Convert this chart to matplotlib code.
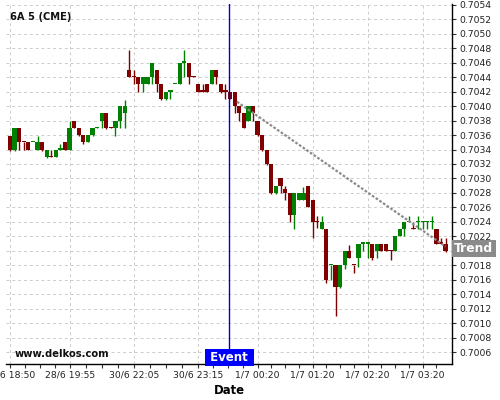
import matplotlib
matplotlib.use("Agg")
import matplotlib.pyplot as plt
import numpy as np

symbol = "6A 5 (CME)"
site = "www.delkos.com"

opens = [0.70358, 0.7034, 0.7037, 0.70351, 0.7035, 0.7035, 0.7034, 0.7035, 0.7033, 0.70331,
         0.7033, 0.7034, 0.7035, 0.7034, 0.7038, 0.7037, 0.7036, 0.7035, 0.7036, 0.7037,
         0.7038, 0.7039, 0.70371, 0.7037, 0.7038, 0.7039, 0.7045, 0.70441, 0.7044, 0.7043,
         0.7043, 0.7044, 0.7045, 0.7043, 0.7041, 0.7042, 0.7043, 0.7043, 0.7046, 0.7046,
         0.70441, 0.7043, 0.70421, 0.7043, 0.7043, 0.7045, 0.7043, 0.70421, 0.7042, 0.7042,
         0.7040, 0.7039, 0.7038, 0.7040, 0.7038, 0.7036, 0.7034, 0.7032, 0.7028, 0.7030,
         0.70285, 0.7028, 0.7025, 0.7027, 0.7027, 0.7029, 0.7027, 0.70241, 0.7023, 0.7023,
         0.7018, 0.7018, 0.7015, 0.7018, 0.7020, 0.70181, 0.7019, 0.7021, 0.7021, 0.7021,
         0.7020, 0.7021, 0.7021, 0.70201, 0.7020, 0.7022, 0.7023, 0.7024, 0.70231, 0.7024,
         0.7024, 0.7024, 0.7024, 0.7023, 0.70211, 0.7021]
highs = [0.70358, 0.7037, 0.7037, 0.70351, 0.7035, 0.70351, 0.70358, 0.7035, 0.7034, 0.7034,
         0.7034, 0.70348, 0.7035, 0.7038, 0.7038, 0.7037, 0.7036, 0.7036, 0.7037, 0.70371,
         0.7039, 0.7039, 0.70371, 0.7038, 0.7040, 0.70408, 0.70478, 0.7045, 0.7044, 0.7044,
         0.7044, 0.7046, 0.7045, 0.7043, 0.7042, 0.70421, 0.70431, 0.7046, 0.70478, 0.7046,
         0.70441, 0.7043, 0.7043, 0.7043, 0.7045, 0.7045, 0.7043, 0.7043, 0.7042, 0.7042,
         0.7040, 0.7039, 0.7040, 0.7040, 0.7038, 0.7036, 0.7034, 0.7032, 0.7029, 0.7030,
         0.7029, 0.7028, 0.7028, 0.7028, 0.70288, 0.7029, 0.7027, 0.70248, 0.70248, 0.7023,
         0.70181, 0.7018, 0.7018, 0.7020, 0.70208, 0.70181, 0.7021, 0.70211, 0.70211, 0.7021,
         0.7021, 0.7021, 0.7021, 0.70201, 0.7022, 0.7023, 0.7024, 0.70248, 0.7024, 0.70248,
         0.70241, 0.70241, 0.70248, 0.7023, 0.70218, 0.70218]
lows = [0.70338, 0.70338, 0.7034, 0.7034, 0.7034, 0.7035, 0.7034, 0.70338, 0.70328, 0.7033,
        0.7033, 0.7034, 0.7034, 0.7034, 0.7037, 0.70358, 0.70348, 0.7035, 0.70358, 0.7037,
        0.7037, 0.70368, 0.7037, 0.70358, 0.7037, 0.7037, 0.7044, 0.7043, 0.7042, 0.7042,
        0.7043, 0.7043, 0.7042, 0.70408, 0.70408, 0.7041, 0.7043, 0.7043, 0.7044, 0.7043,
        0.7044, 0.7042, 0.7042, 0.7042, 0.7043, 0.7043, 0.70418, 0.7041, 0.7041, 0.7039,
        0.7038, 0.7037, 0.7038, 0.7038, 0.70358, 0.70338, 0.70318, 0.70278, 0.70278, 0.7028,
        0.7027, 0.7024, 0.7023, 0.7027, 0.7027, 0.7026, 0.70218, 0.70232, 0.7023, 0.70155,
        0.7016, 0.7011, 0.70148, 0.70175, 0.7019, 0.7017, 0.70178, 0.7020, 0.7019, 0.70188,
        0.7019, 0.7020, 0.7020, 0.70188, 0.7020, 0.7022, 0.7022, 0.7024, 0.7023, 0.7023,
        0.7023, 0.7023, 0.7023, 0.7021, 0.7021, 0.70198]
closes = [0.7034, 0.7037, 0.7035, 0.7035, 0.7034, 0.70351, 0.7035, 0.7034, 0.7034, 0.7033,
          0.7034, 0.70341, 0.7034, 0.7037, 0.7037, 0.7036, 0.7035, 0.7036, 0.7037, 0.70371,
          0.7039, 0.7037, 0.7037, 0.7038, 0.7040, 0.7040, 0.7044, 0.7044, 0.7043, 0.7044,
          0.7044, 0.7046, 0.7043, 0.7041, 0.7042, 0.70421, 0.70431, 0.7046, 0.70461, 0.7044,
          0.7044, 0.7042, 0.7042, 0.7042, 0.7045, 0.7044, 0.7042, 0.7042, 0.7041, 0.7040,
          0.7039, 0.7037, 0.7040, 0.7039, 0.7036, 0.7034, 0.7032, 0.7028, 0.7029, 0.7029,
          0.7028, 0.7025, 0.7028, 0.7028, 0.7028, 0.7026, 0.7024, 0.7024, 0.7024, 0.7016,
          0.70181, 0.7015, 0.7018, 0.7020, 0.7019, 0.7018, 0.7021, 0.70211, 0.70211, 0.7019,
          0.7021, 0.7020, 0.7020, 0.7020, 0.7022, 0.7023, 0.7024, 0.70241, 0.7023, 0.70241,
          0.70241, 0.70241, 0.70241, 0.7021, 0.7021, 0.7020]

x_tick_pos = [0, 13, 27, 41, 54, 66, 78, 90]
x_tick_labels = ["28/6 18:50", "28/6 19:55", "30/6 22:05", "30/6 23:15",
                 "1/7 00:20", "1/7 01:20", "1/7 02:20", "1/7 03:20"]
y_tick_values = [0.7006, 0.7008, 0.7010, 0.7012, 0.7014, 0.7016, 0.7018, 0.7020,
                 0.7022, 0.7024, 0.7026, 0.7028, 0.7030, 0.7032, 0.7034, 0.7036,
                 0.7038, 0.7040, 0.7042, 0.7044, 0.7046, 0.7048, 0.7050, 0.7052, 0.7054]
event_pos = 47.8
trend_x = [49.5, 95.0]
trend_y = [0.70406, 0.70206]

GREEN = "#008000"
RED = "#800000"

fig = plt.figure(figsize=(5, 4), dpi=100)
ax = fig.add_axes([0.012, 0.09, 0.892, 0.90])

n = len(opens)
idx = np.arange(n)
o = np.array(opens); h = np.array(highs); l = np.array(lows); c = np.array(closes)
colors = [GREEN if c[i] >= o[i] else RED for i in range(n)]

ax.vlines(idx, l, h, colors=colors, linewidth=1.0, zorder=3)
bottoms = np.minimum(o, c)
heights = np.maximum(np.abs(c - o), 0.000016)
ax.bar(idx, heights, bottom=bottoms, width=0.92, color=colors, linewidth=0, zorder=4)

ax.set_xlim(-0.87, 96.4)
ax.set_ylim(0.700437, 0.70541)

ax.set_yticks(y_tick_values)
ax.set_yticklabels([f"{v:.4f}" for v in y_tick_values])
ax.yaxis.tick_right()
ax.set_xticks(x_tick_pos)
ax.set_xticklabels(x_tick_labels)
minor = []
for a, b in zip(x_tick_pos[:-1], x_tick_pos[1:]):
    for k in (1, 2, 3):
        minor.append(a + (b - a) * k / 4)
minor.append(93)
ax.set_xticks(minor, minor=True)

ax.tick_params(axis="both", which="major", labelsize=6.7, length=3, width=0.8,
               color="#333333", labelcolor="#222222", pad=2)
ax.tick_params(axis="x", which="minor", length=3, width=0.8, color="#333333")

ax.grid(True, which="major", color="#cccccc", linestyle=(0, (3, 3)), linewidth=0.7)
ax.set_axisbelow(True)

for s in ("left", "top"):
    ax.spines[s].set_visible(False)
ax.spines["bottom"].set_linewidth(1.0)
ax.spines["right"].set_linewidth(1.0)

ax.set_xlabel("Date", fontsize=8.4, fontweight="bold", labelpad=3)

# trend line
ax.plot(trend_x, trend_y, color="#8c8c8c", linewidth=1.6, linestyle=(0, (1.2, 0.8)), zorder=5)

# event line
ax.axvline(event_pos, color="#0000dd", linewidth=1.0, zorder=6)

ax.text(0.009, 0.965, symbol, transform=ax.transAxes, fontsize=7.1, fontweight="bold",
        ha="left", va="center", color="#111111")
ax.text(0.02, 0.028, site, transform=ax.transAxes, fontsize=7.2, fontweight="bold",
        ha="left", va="center", color="#111111")

ax.text(event_pos, 0.0, " Event ", transform=ax.get_xaxis_transform(), fontsize=8.5,
        fontweight="bold", color="white", ha="center", va="bottom", zorder=7,
        bbox=dict(boxstyle="square,pad=0.14", fc="#0000ff", ec="none"))

ax.annotate("Trend", xy=(1.0, trend_y[-1]), xycoords=("axes fraction", "data"),
            xytext=(1.6, -1.5), textcoords="offset points", fontsize=8.8, fontweight="bold",
            color="white", ha="left", va="center", zorder=7, annotation_clip=False,
            bbox=dict(boxstyle="square,pad=0.18", fc="#8a8a8a", ec="none"))

fig.savefig("out.png", dpi=100)
